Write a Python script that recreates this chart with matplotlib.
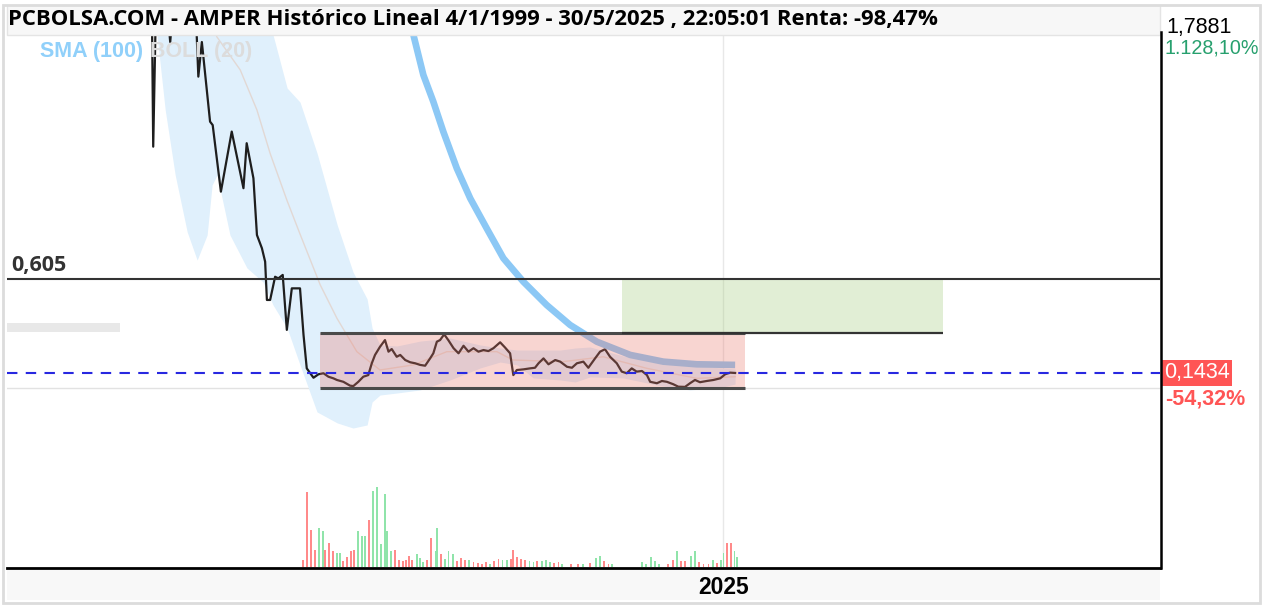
import matplotlib.pyplot as plt
import matplotlib.patches as mpatches
import matplotlib.transforms as mtransforms

# price series (fractional year, price in EUR); first points lie above the visible range
price_years = [2004.50, 2005.38, 2005.50, 2005.55, 2005.65, 2005.99, 2006.13, 2006.26, 2006.98,
               2007.09, 2007.21, 2007.49, 2007.58, 2007.86, 2008.23, 2008.63, 2008.74, 2008.97,
               2009.09, 2009.26, 2009.37, 2009.43, 2009.54, 2009.71, 2009.82, 2009.97, 2010.11,
               2010.28, 2010.56, 2010.68, 2010.79, 2011.02, 2011.19, 2011.36, 2011.53, 2011.70,
               2011.82, 2012.04, 2012.27, 2012.38, 2012.55, 2012.72, 2012.89, 2013.01, 2013.12,
               2013.29, 2013.46, 2013.58, 2013.69, 2013.86, 2013.98, 2014.15, 2014.32, 2014.49,
               2014.66, 2014.83, 2015.00, 2015.11, 2015.23, 2015.34, 2015.48, 2015.62, 2015.80,
               2015.97, 2016.14, 2016.31, 2016.48, 2016.65, 2016.82, 2016.99, 2017.16, 2017.39,
               2017.56, 2017.73, 2017.84, 2017.96, 2018.18, 2018.41, 2018.58, 2018.70, 2018.87,
               2019.04, 2019.27, 2019.44, 2019.67, 2019.84, 2020.01, 2020.23, 2020.40, 2020.63,
               2020.80, 2020.97, 2021.14, 2021.37, 2021.54, 2021.71, 2021.88, 2022.05, 2022.23,
               2022.40, 2022.51, 2022.74, 2022.91, 2023.08, 2023.30, 2023.47, 2023.70, 2023.87,
               2024.04, 2024.21, 2024.44, 2024.67, 2024.90, 2025.07, 2025.24, 2025.41]
price = [2.60, 2.10, 2.00, 1.255, 2.00, 2.00, 1.769, 2.00, 2.00,
         1.599, 1.769, 1.378, 1.361, 1.034, 1.329, 1.051, 1.272, 1.100,
         0.821, 0.756, 0.690, 0.502, 0.502, 0.616, 0.608, 0.625, 0.355,
         0.559, 0.559, 0.330, 0.166, 0.120, 0.137, 0.142, 0.125, 0.117,
         0.109, 0.100, 0.081, 0.079, 0.100, 0.125, 0.133, 0.191, 0.232,
         0.272, 0.305, 0.248, 0.261, 0.223, 0.232, 0.207, 0.196, 0.191,
         0.183, 0.179, 0.215, 0.240, 0.297, 0.305, 0.333, 0.305, 0.265,
         0.240, 0.277, 0.248, 0.265, 0.248, 0.256, 0.251, 0.265, 0.294,
         0.268, 0.240, 0.133, 0.158, 0.161, 0.166, 0.169, 0.191, 0.215,
         0.186, 0.207, 0.199, 0.174, 0.169, 0.191, 0.199, 0.169, 0.215,
         0.248, 0.260, 0.223, 0.191, 0.150, 0.142, 0.166, 0.150, 0.153,
         0.133, 0.100, 0.093, 0.104, 0.100, 0.088, 0.076, 0.075, 0.093,
         0.109, 0.098, 0.104, 0.109, 0.117, 0.137, 0.145, 0.1434]

# SMA (100)
sma_years = [2014.32, 2014.43, 2014.77, 2015.11, 2015.45, 2015.91, 2016.37, 2016.93, 2017.50,
             2018.18, 2018.98, 2019.78, 2020.69, 2021.83, 2022.96, 2024.10, 2025.41]
sma = [1.85, 1.804, 1.607, 1.476, 1.329, 1.149, 1.001, 0.854, 0.707,
       0.592, 0.477, 0.379, 0.297, 0.232, 0.199, 0.186, 0.183]

# BOLL (20)
boll_years = [2005.44, 2005.68, 2005.96, 2006.30, 2006.71, 2007.05, 2007.39, 2007.56, 2007.73,
              2008.17, 2008.75, 2009.30, 2009.64, 2010.12, 2010.56, 2011.14, 2011.83, 2012.37,
              2012.85, 2013.02, 2013.29, 2013.87, 2014.66, 2015.68, 2016.71, 2017.39, 2017.97,
              2018.52, 2019.44, 2019.95, 2020.46, 2021.59, 2022.75, 2023.87, 2025.00, 2025.41]
boll_upper = [2.30, 2.30, 2.30, 2.30, 2.30, 2.30, 2.30, 2.30, 2.30,
              2.20, 2.10, 1.90, 1.804, 1.543, 1.474, 1.224, 0.870, 0.639,
              0.507, 0.364, 0.281, 0.276, 0.300, 0.315, 0.281, 0.266, 0.256,
              0.256, 0.256, 0.266, 0.271, 0.227, 0.197, 0.178, 0.168, 0.163]
boll_lower = [1.90, 1.804, 1.435, 1.116, 0.836, 0.698, 0.821, 1.067, 1.116,
              0.821, 0.659, 0.590, 0.477, 0.364, 0.183, -0.048, -0.102, -0.127,
              -0.112, 0.001, 0.035, 0.045, 0.060, 0.109, 0.168, 0.197, 0.183,
              0.119, 0.109, 0.099, 0.124, 0.119, 0.084, 0.060, 0.075, 0.089]
boll_mid_years = [2007.32, 2007.72, 2008.52, 2009.09, 2009.54, 2010.11, 2010.56, 2011.25, 2011.82,
                  2012.50, 2013.29, 2014.43, 2015.57, 2017.28, 2017.83, 2019.54, 2020.91,
                  2022.40, 2024.10, 2025.41]
boll_mid = [2.00, 1.795, 1.632, 1.435, 1.222, 0.993, 0.826, 0.576, 0.412,
            0.248, 0.158, 0.183, 0.248, 0.248, 0.207, 0.199, 0.223,
            0.166, 0.117, 0.125]

# volume (millions of shares), u = up bar, d = down bar
vol_years = [2010.65, 2010.79, 2010.93, 2011.06, 2011.21, 2011.34, 2011.40, 2011.55, 2011.68, 2011.81,
             2011.93, 2012.02, 2012.16, 2012.29, 2012.41, 2012.55, 2012.67, 2012.78, 2012.91, 2013.04,
             2013.18, 2013.32, 2013.46, 2013.52, 2013.66, 2013.81, 2013.94, 2014.07, 2014.18, 2014.28,
             2014.37, 2014.54, 2014.66, 2014.77, 2014.90, 2015.03, 2015.18, 2015.23, 2015.36, 2015.50,
             2015.63, 2015.77, 2015.91, 2016.06, 2016.19, 2016.33, 2016.48, 2016.63, 2016.76, 2016.90,
             2017.05, 2017.18, 2017.33, 2017.47, 2017.62, 2017.75, 2017.82, 2017.96, 2018.09, 2018.24,
             2018.39, 2018.53, 2018.66, 2018.81, 2018.95, 2019.10, 2019.23, 2019.38, 2019.49, 2019.80,
             2020.06, 2020.23, 2020.46, 2020.67, 2020.80, 2020.94, 2021.09, 2021.20, 2022.22, 2022.37,
             2022.53, 2022.68, 2022.82, 2023.13, 2023.28, 2023.42, 2023.57, 2023.70, 2023.90, 2024.04,
             2024.18, 2024.33, 2024.50, 2024.65, 2024.79, 2024.92, 2025.01, 2025.12, 2025.26, 2025.39,
             2025.47]
volume = [2.2, 22.5, 11.2, 5.2, 11.7, 10.7, 5.2, 7.2, 4.7, 4.2,
          4.2, 1.7, 2.9, 4.7, 5.2, 10.7, 9.2, 9.2, 14.2, 23.0,
          24.2, 6.9, 21.9, 10.7, 4.7, 5.2, 2.2, 1.7, 2.2, 3.2,
          2.2, 3.9, 2.7, 1.5, 2.2, 8.7, 4.7, 11.7, 3.9, 2.5,
          4.7, 3.9, 1.7, 2.7, 2.2, 2.2, 1.5, 1.2, 0.9, 1.5,
          0.9, 1.7, 2.5, 2.2, 2.2, 2.5, 5.2, 2.9, 2.5, 2.2,
          1.7, 1.5, 1.9, 1.9, 2.2, 1.5, 1.2, 1.5, 0.9, 0.9,
          0.9, 0.9, 1.2, 2.7, 3.2, 1.9, 0.9, 0.9, 1.5, 0.9,
          2.9, 1.7, 1.0, 0.9, 2.2, 4.7, 1.7, 1.7, 3.2, 4.7,
          1.5, 1.0, 0.9, 2.2, 1.2, 2.2, 4.2, 7.2, 7.2, 4.7,
          2.9]
vol_dir = ("dddduuddduu" "dddduuudugu" "ugudddddduu" "udduuduuudd" "duddddudduu" "dddddugdugg"
           "drgdduduudd" "uuuuuuddudd" "uuddduduudd" "uudu")
vol_dir = vol_dir.replace("g", "u").replace("r", "d")

# drawn levels and zones
last_price = 0.1434
resistance = 0.605
range_low, range_high = 0.0696, 0.3398
range_start, range_end = 2011.25, 2025.75
target_start, target_end = 2021.55, 2032.51
max_price = 1.7881

W, H = 1264, 608
fig = plt.figure(figsize=(W / 100, H / 100), dpi=100)
fig.patch.set_facecolor("white")

# date strip (behind the axes)
fig.patches.append(mpatches.Rectangle((7 / W, 8 / H), 1153 / W, 32 / H, transform=fig.transFigure,
                                      facecolor="#f8f8f8", edgecolor="none", zorder=-2))

ax = fig.add_axes([7 / W, 40 / H, 1153 / W, 533 / H])
ax.set_facecolor("none")
ax.set_xlim(2000.56, 2039.91)
ax.set_ylim(-0.8146, 1.8035)

ax.fill_between(boll_years, boll_lower, boll_upper, color="#e0f0fc", lw=0, zorder=1)
ax.plot(boll_mid_years, boll_mid, color="#e2d8d4", lw=1, zorder=2)
ax.plot(price_years, price, color="#1e1e1e", lw=1.6, zorder=3)
ax.plot(sma_years, sma, color="#8cc8f5", lw=4.8, solid_capstyle="butt", zorder=4)

ax.axhline(range_low, color="#e2e2e2", lw=1, zorder=0)
ax.axvline(2025.0, color="#e8e8e8", lw=1, zorder=0)

ax.add_patch(mpatches.Rectangle((range_start, range_low), range_end - range_start, range_high - range_low,
                                facecolor=(0.92, 0.46, 0.41, 0.3), edgecolor="none", zorder=5))
ax.add_patch(mpatches.Rectangle((target_start, range_high), target_end - target_start, resistance - range_high,
                                facecolor=(0.62, 0.79, 0.46, 0.3), edgecolor="none", zorder=5))
ax.hlines([range_low, range_high], range_start, range_end, color="#4a4a4a", lw=2.2, zorder=6)
ax.hlines(range_high, target_start, target_end, color="#333333", lw=1.6, zorder=6)
ax.axhline(resistance, color="#333333", lw=1.5, zorder=6)
ax.axhline(last_price, color="#2828e0", lw=1.5, ls=(0, (5, 4)), zorder=7)

ax.text(2000.72, resistance + 0.015, "0,605", fontsize=15.5, fontweight="bold", color="#333333",
        family="Open Sans", va="bottom", ha="left")

# volume on its own scale
vax = ax.twinx()
vax.set_ylim(-0.3, 160)
vcolors = ["#90e4aa" if d == "u" else "#ff8a8a" for d in vol_dir]
vax.bar(vol_years, volume, width=0.06, color=vcolors, lw=0)
vax.set_yticks([])

for a in (ax, vax):
    for s in ("top", "left", "right", "bottom"):
        a.spines[s].set_visible(False)
ax.spines["bottom"].set_visible(True)
ax.spines["bottom"].set_linewidth(2)
ax.spines["bottom"].set_color("black")

ax.set_yticks([])
ax.set_xticks([2025])
ax.set_xticklabels(["2025"], fontsize=16.5, fontweight="bold", family="Liberation Sans")
ax.tick_params(axis="x", length=0, pad=6)

# title bar and price axis line on top
fig.add_artist(mpatches.Rectangle((7 / W, 1 - 35 / H), 1153 / W, 30 / H, transform=fig.transFigure,
                                  facecolor="#f7f7f7", edgecolor="#e4e4e4", lw=1, zorder=3))
fig.add_artist(plt.Line2D([1161 / W, 1161 / W], [40 / H, 1 - 32 / H], color="black", lw=1.8, zorder=4))

fig.text(8 / W, 1 - 19 / H, "PCBOLSA.COM - AMPER Histórico Lineal 4/1/1999 - 30/5/2025 , 22:05:01 Renta: -98,47%",
         fontsize=15.9, fontweight="bold", family="Open Sans", va="center", ha="left", zorder=5)
fig.text(40 / W, 1 - 52 / H, "SMA (100)", fontsize=15.5, fontweight="bold", family="Liberation Sans",
         color="#90d0fa", va="center", ha="left", zorder=5)
fig.text(150 / W, 1 - 52 / H, "BOLL (20)", fontsize=15.5, fontweight="bold", family="Liberation Sans",
         color="#dcdcdc", va="center", ha="left", zorder=5)
fig.add_artist(mpatches.Rectangle((7 / W, 1 - 332 / H), 113 / W, 9 / H, transform=fig.transFigure,
                                  facecolor="#e8e8e8", edgecolor="none", zorder=5))

fig.text(1166 / W, 1 - 28 / H, f"{max_price:.4f}".replace(".", ","), fontsize=15.5, family="Liberation Sans",
         color="black", va="center", ha="left", zorder=5)
fig.text(1165 / W, 1 - 48 / H, "1.128,10%", fontsize=14.2, family="Liberation Sans",
         color="#27a06e", va="center", ha="left", zorder=5)

trans = mtransforms.blended_transform_factory(ax.transAxes, ax.transData)
ax.text(1.0035, last_price, f"{last_price:.4f}".replace(".", ","), transform=trans, fontsize=15.5,
        family="Liberation Sans", color="white", va="center", ha="left", clip_on=False,
        bbox=dict(boxstyle="square,pad=0.12", facecolor="#ff5555", edgecolor="none"))
fig.text(1165 / W, 1 - 399 / H, "-54,32%", fontsize=15.5, fontweight="bold", family="Liberation Sans",
         color="#ff5555", va="center", ha="left", zorder=5)

# outer frame
fig.add_artist(mpatches.Rectangle((3 / W, 5 / H), 1257 / W, 598 / H, transform=fig.transFigure,
                                  facecolor="none", edgecolor="#dcdcdc", lw=2, zorder=9))

fig.savefig("out.png", dpi=100)
